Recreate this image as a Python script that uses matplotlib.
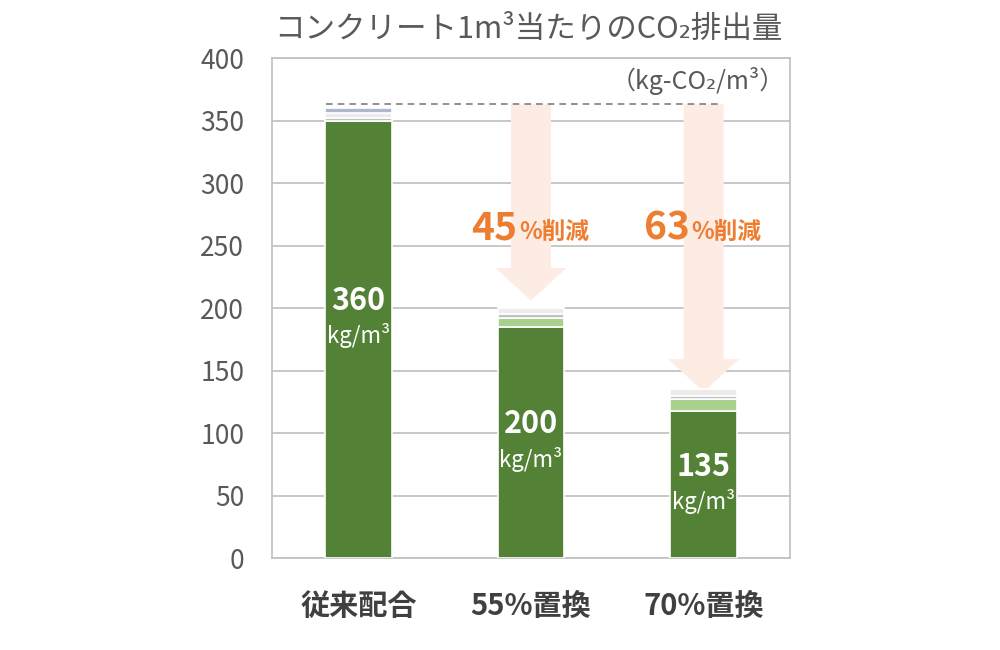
import matplotlib
matplotlib.use("Agg")
import matplotlib.pyplot as plt
from matplotlib.patches import Polygon

plt.rcParams['font.family'] = ['Noto Sans CJK JP', 'DejaVu Sans']

# data
categories = ['従来配合', '55%置換', '70%置換']
totals = [360, 200, 135]
cement = [350, 185, 118]        # dark green
slag = [0, 7, 9]                # light green
other1 = [2, 3, 3]              # gray
other2 = [4, 5, 5]              # light gray
other3 = [4, 0, 0]              # blue gray
reductions = ['45', '63']
arrow_tips = [206, 133]
baseline = 363

seg_colors = ['#538135', '#a9d18e', '#bfbfbf', '#ebebeb', '#adb9ca']
segments = [cement, slag, other1, other2, other3]

fig = plt.figure(figsize=(10, 6.5), dpi=100)
ax = fig.add_axes([0.272, 0.1415, 0.518, 0.7692])

x = range(len(categories))
bottom = [0] * len(categories)
for vals, col in zip(segments, seg_colors):
    ax.bar(x, vals, width=0.385, bottom=bottom, color=col,
           edgecolor='white', linewidth=1.2, zorder=3)
    bottom = [b + v for b, v in zip(bottom, vals)]

ax.set_xlim(-0.5, 2.5)
ax.set_ylim(0, 400)
ax.set_yticks(range(0, 401, 50))
ax.grid(axis='y', color='#bfbfbf', linewidth=1.2, zorder=0)
for s in ax.spines.values():
    s.set_color('#bfbfbf')
    s.set_linewidth(1.2)
ax.tick_params(axis='y', length=0, pad=20, labelsize=19, labelcolor='#595959')
ax.tick_params(axis='x', length=0, pad=24, labelsize=21, labelcolor='#404040')
ax.set_xticks(list(x))
ax.set_xticklabels(categories, fontweight='bold')

# baseline dashed line
ax.plot([-0.19, 2.1], [baseline, baseline], ls=(0, (4, 3)), color='#7f7f7f',
        lw=1.2, zorder=4)

# reduction arrows
for i, pct, tip in zip([1, 2], reductions, arrow_tips):
    head = tip + 26
    sw, hw = 0.116, 0.205
    pts = [(i - sw, baseline), (i + sw, baseline), (i + sw, head), (i + hw, head),
           (i, tip), (i - hw, head), (i - sw, head)]
    ax.add_patch(Polygon(pts, closed=True, facecolor='#fdece3', edgecolor='none', zorder=2))
    ax.text(i - 0.08, 264, pct, ha='right', va='center', fontsize=28,
            fontweight='bold', color='#ed7d31', zorder=5)
    ax.text(i - 0.07, 261, '%削減', ha='left', va='center', fontsize=17,
            fontweight='bold', color='#ed7d31', zorder=5)

# value labels in bars
label_y = [206, 107, 73]
for i, (t, ly) in enumerate(zip(totals, label_y)):
    ax.text(i, ly, str(t), ha='center', va='center', fontsize=22,
            fontweight='bold', color='white', zorder=5)
    ax.text(i, ly - 28, 'kg/m³', ha='center', va='center', fontsize=16,
            color='white', zorder=5)

ax.text(0.99, 0.955, '（kg-CO₂/m³）', transform=ax.transAxes, ha='right',
        va='center', fontsize=18, color='#595959')

fig.text(0.528, 0.955, 'コンクリート1m³当たりのCO₂排出量', ha='center', va='center',
         fontsize=22, color='#595959')

fig.savefig('out.png', dpi=100, facecolor='white')
